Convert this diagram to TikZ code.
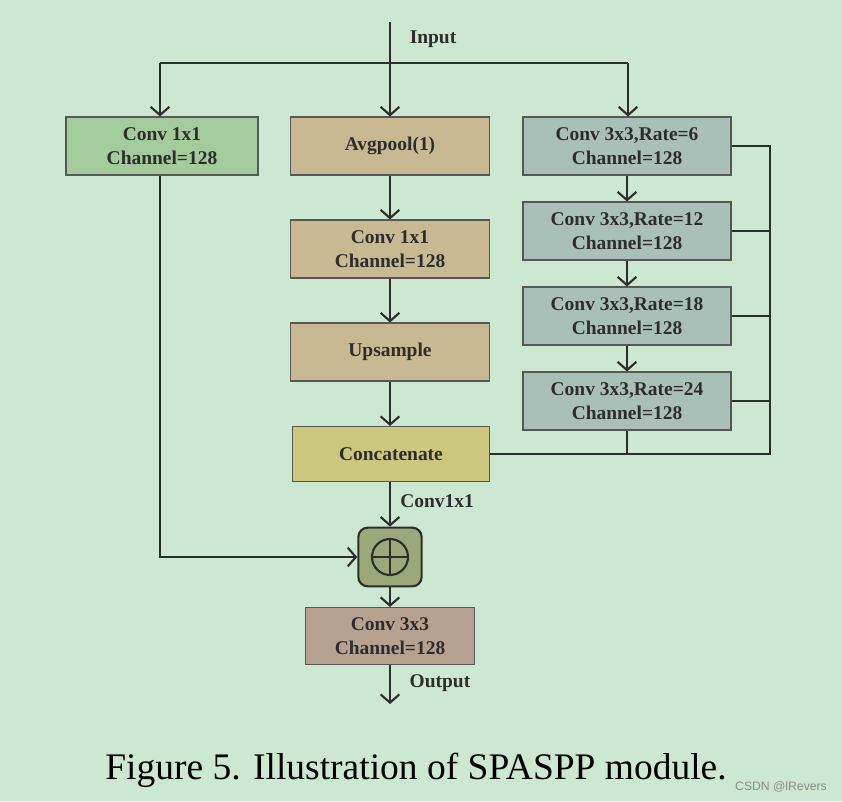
\documentclass[tikz,border=0pt]{standalone}
\usepackage{fontspec}
\setmainfont{Liberation Serif}
\setsansfont{Liberation Sans}
\usetikzlibrary{arrows.meta}

\definecolor{bgc}{RGB}{205,232,208}
\definecolor{greenc}{RGB}{163,203,156}
\definecolor{tanc}{RGB}{201,185,146}
\definecolor{catc}{RGB}{203,199,126}
\definecolor{atrc}{RGB}{168,192,183}
\definecolor{addc}{RGB}{155,168,122}
\definecolor{outc}{RGB}{183,162,145}
\definecolor{linec}{RGB}{45,45,45}
\definecolor{txtc}{RGB}{45,45,45}

\begin{document}
\begin{tikzpicture}[x=0.03cm, y=-0.03cm,
    blk/.style={draw=linec!80, line width=0.9pt, align=center, text=txtc,
      font=\fontsize{16.6}{20.4}\selectfont\bfseries, inner sep=0pt},
    lbl/.style={text=txtc, font=\fontsize{16.6}{20.4}\selectfont\bfseries},
    wire/.style={draw=linec, line width=1.8pt},
    arr/.style={wire, -{Straight Barb[length=7pt, width=16pt, line width=1.8pt]}}]
     % background
     \fill[bgc] (0,0) rectangle (842,801);
     % left branch
     \node[blk, fill=greenc, minimum width=5.76cm, minimum height=1.74cm] (conv1) at (162,146) {Conv 1x1\\Channel=128};
     % pooling branch
     \node[blk, fill=tanc, minimum width=5.97cm, minimum height=1.74cm] (pool) at (390,146) {Avgpool(1)};
     \node[blk, fill=tanc, minimum width=5.97cm, minimum height=1.74cm] (poolconv) at (390,249) {Conv 1x1\\Channel=128};
     \node[blk, fill=tanc, minimum width=5.97cm, minimum height=1.74cm] (up) at (390,352) {Upsample};
     \node[blk, fill=catc, minimum width=5.91cm, minimum height=1.65cm] (cat) at (391,454) {Concatenate};
     % atrous branch
     \node[blk, fill=atrc, minimum width=6.24cm, minimum height=1.74cm] (rate6) at (627,146) {Conv 3x3,Rate=6\\Channel=128};
     \node[blk, fill=atrc, minimum width=6.24cm, minimum height=1.74cm] (rate12) at (627,231) {Conv 3x3,Rate=12\\Channel=128};
     \node[blk, fill=atrc, minimum width=6.24cm, minimum height=1.74cm] (rate18) at (627,316) {Conv 3x3,Rate=18\\Channel=128};
     \node[blk, fill=atrc, minimum width=6.24cm, minimum height=1.74cm] (rate24) at (627,401) {Conv 3x3,Rate=24\\Channel=128};
     % fusion
     \node[draw=linec, line width=1.8pt, fill=addc, rounded corners=8pt, minimum width=1.9cm, minimum height=1.76cm] (add) at (390,557) {};
     \node[blk, fill=outc, minimum width=5.07cm, minimum height=1.71cm] (out) at (390,636) {Conv 3x3\\Channel=128};
     \draw[wire] (add.center) circle (18);
     \draw[wire] ([yshift=-0.54cm]add.center) -- ([yshift=0.54cm]add.center);
     \draw[wire] ([xshift=-0.54cm]add.center) -- ([xshift=0.54cm]add.center);
     % input split
     \coordinate (in) at (390,22);
     \coordinate (splitL) at (160,63);
     \coordinate (splitR) at (628,63);
     \draw[arr] (in) -- (pool);
     \draw[wire] (splitL) -- (splitR);
     \draw[arr] (splitL) -- (splitL |- conv1.north);
     \draw[arr] (splitR) -- (splitR |- rate6.north);
     \node[lbl] (inlbl) at (433,39) {Input};
     % vertical chains
     \draw[arr] (pool) -- (poolconv);
     \draw[arr] (poolconv) -- (up);
     \draw[arr] (up) -- (up |- cat.north);
     \draw[arr] (rate6) -- (rate12);
     \draw[arr] (rate12) -- (rate18);
     \draw[arr] (rate18) -- (rate24);
     % right bus
     \coordinate (busT) at (770,146);
     \coordinate (busB) at (770,454);
     \draw[wire] (rate6.east) -- (busT) -- (busB) -- (cat.east);
     \draw[wire] (rate12.east) -- (rate12.east -| busT);
     \draw[wire] (rate18.east) -- (rate18.east -| busT);
     \draw[wire] (rate24.east) -- (rate24.east -| busT);
     \draw[wire] (rate24.south) -- (rate24.south |- cat.east);
     % to the sum
     \draw[arr] (cat.south -| add) -- (add);
     \node[lbl] (convlbl) at (437,501) {Conv1x1};
     \coordinate (bend) at (160,557);
     \draw[arr] (conv1.south -| bend) -- (bend) -- (add.west);
     \draw[arr] (add) -- (out);
     \coordinate (outend) at (390,704);
     \draw[arr] (out) -- (outend);
     \node[lbl] (outlbl) at (440,683) {Output};
     % caption
     \node[font=\fontsize{32}{38}\selectfont] (cap) at (416,770) {Figure 5. Illustration of SPASPP module.};
     \node[font=\sffamily\fontsize{10.4}{12}\selectfont, text=black!45] (mark) at (781,787) {CSDN @lRevers};
\end{tikzpicture}
\end{document}
